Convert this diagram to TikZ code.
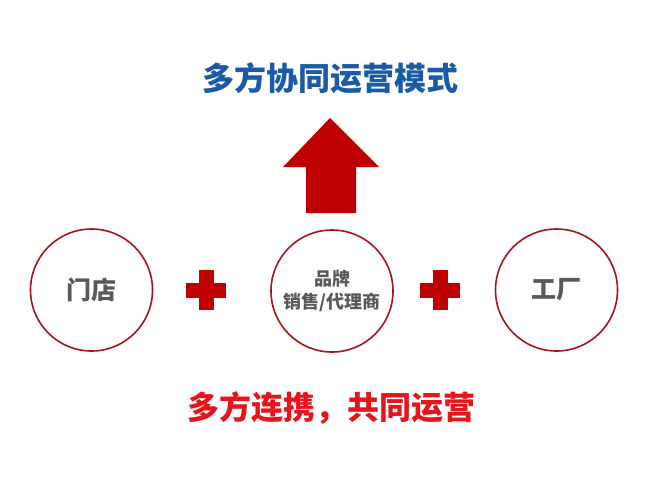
\documentclass[tikz,border=0pt]{standalone}
\usepackage{fontspec}
\setmainfont{Noto Sans CJK SC}
\newfontfamily\cjk{Noto Sans CJK SC}
\definecolor{titleblue}{HTML}{1A5AA6}
\definecolor{darkred}{HTML}{C00000}
\definecolor{ringred}{HTML}{A8141C}
\definecolor{brightred}{HTML}{E8141B}
\definecolor{txtgray}{HTML}{595959}
\tikzset{
  ring/.style={circle, draw=ringred, line width=1.6pt, minimum size=122pt, inner sep=0pt, text=txtgray, align=center},
}
\begin{document}
\begin{tikzpicture}[x=1pt,y=-1pt]
\useasboundingbox (0,0) rectangle (650,488);
\fill[white] (0,0) rectangle (650,488);
% title
\node[text=titleblue, font=\cjk\bfseries\fontsize{32}{34}\selectfont] (title) at (330,78) {多方协同运营模式};
% arrow
\fill[darkred] (306,213) -- (306,167) -- (283,167) -- (330,118) -- (379,167) -- (356,167) -- (356,213) -- cycle;
% circles
\node[ring, font=\cjk\bfseries\fontsize{25}{28}\selectfont] (store) at (91.5,290) {门店};
\node[ring, font=\cjk\bfseries\fontsize{18}{22}\selectfont] (brand) at (332,291) {品牌\\[1pt]销售/代理商};
\node[ring, font=\cjk\bfseries\fontsize{25}{28}\selectfont] (factory) at (556.5,290) {工厂};
% plus signs
\coordinate (p1) at (206,290);
\coordinate (p2) at (440,290);
\foreach \p in {p1,p2}{
  \fill[darkred] ([xshift=-7.5pt,yshift=20pt]\p) rectangle ([xshift=7.5pt,yshift=-20pt]\p);
  \fill[darkred] ([xshift=-20pt,yshift=7.5pt]\p) rectangle ([xshift=20pt,yshift=-7.5pt]\p);
}
% bottom text
\node[text=brightred, font=\cjk\bfseries\fontsize{32}{34}\selectfont] (slogan) at (331,408) {多方连携，共同运营};
\end{tikzpicture}
\end{document}
